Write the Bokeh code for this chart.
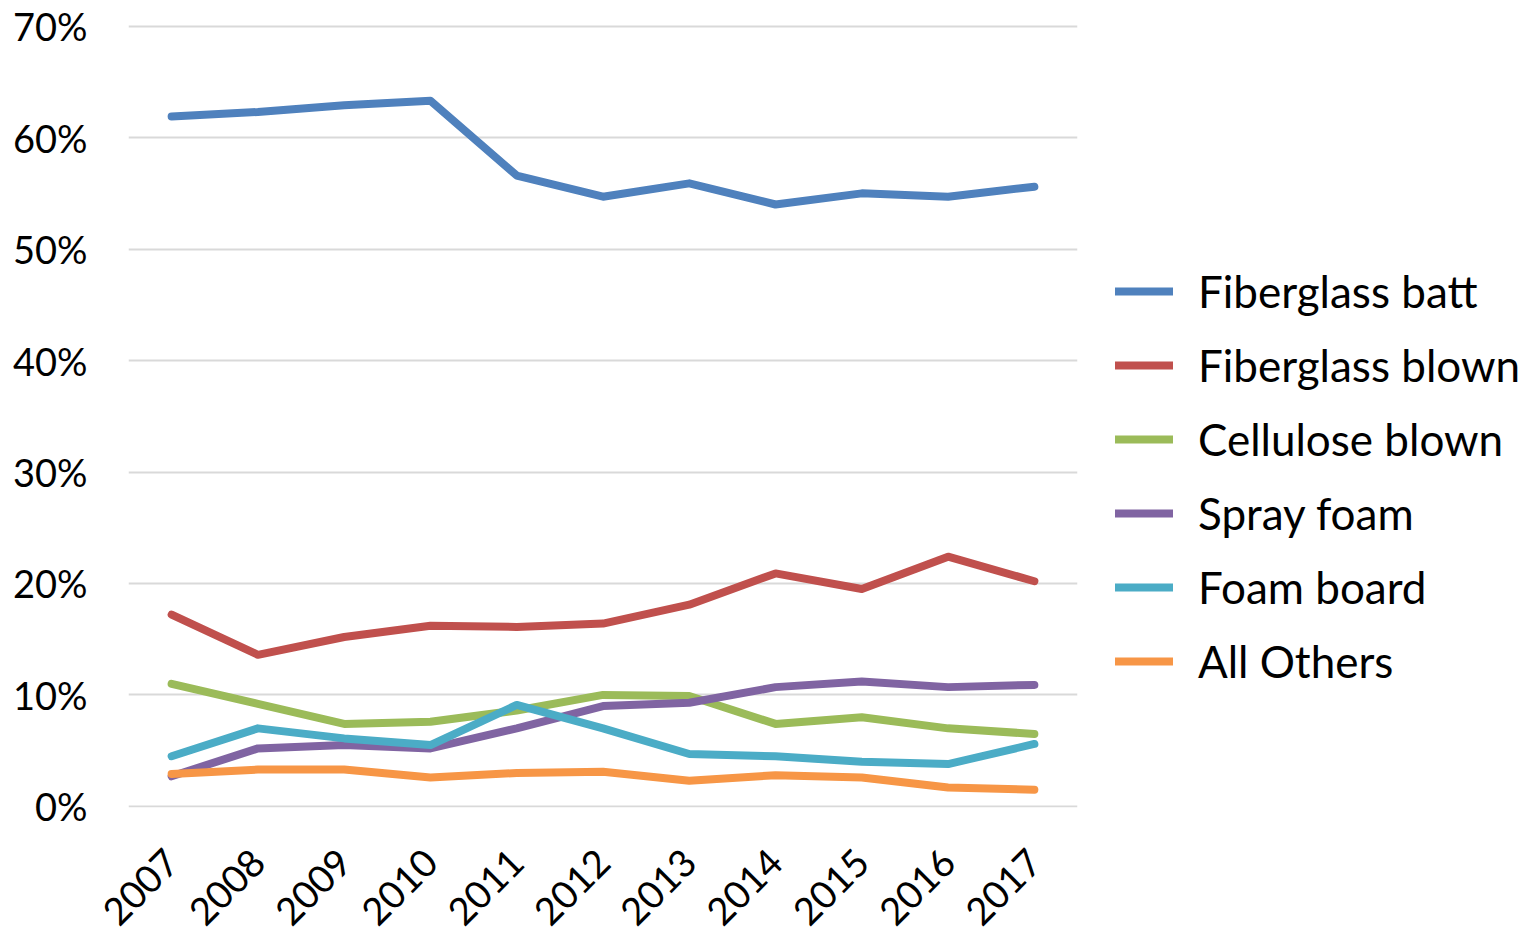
import math
from bokeh.plotting import figure
from bokeh.models import (ColumnDataSource, FactorRange, Range1d, Legend, LegendItem,
                          PrintfTickFormatter, FixedTicker)
from bokeh.embed import file_html
from bokeh.resources import INLINE

years = ["2007", "2008", "2009", "2010", "2011", "2012", "2013", "2014", "2015", "2016", "2017"]

fiberglass_batt = [61.9, 62.3, 62.9, 63.3, 56.6, 54.7, 55.9, 54.0, 55.0, 54.7, 55.6]
fiberglass_blown = [17.2, 13.6, 15.2, 16.2, 16.1, 16.4, 18.1, 20.9, 19.5, 22.4, 20.2]
cellulose_blown = [11.0, 9.2, 7.4, 7.6, 8.6, 10.0, 9.9, 7.4, 8.0, 7.0, 6.5]
spray_foam = [2.7, 5.2, 5.5, 5.2, 7.0, 9.0, 9.3, 10.7, 11.2, 10.7, 10.9]
foam_board = [4.5, 7.0, 6.1, 5.5, 9.1, 7.0, 4.7, 4.5, 4.0, 3.8, 5.6]
all_others = [2.9, 3.3, 3.3, 2.6, 3.0, 3.1, 2.3, 2.8, 2.6, 1.7, 1.5]

series_names = ["Fiberglass batt", "Fiberglass blown", "Cellulose blown",
                "Spray foam", "Foam board", "All Others"]
series_values = [fiberglass_batt, fiberglass_blown, cellulose_blown,
                 spray_foam, foam_board, all_others]
colors = ["#4F81BD", "#C0504D", "#9BBB59", "#8064A2", "#4BACC6", "#F79646"]

y_ticks = [0, 10, 20, 30, 40, 50, 60, 70]

FONT = "Lato"

p = figure(x_range=FactorRange(*years, range_padding=0), y_range=Range1d(-0.1, 70.15),
           frame_width=949, height=940, output_backend="svg", toolbar_location=None,
           min_border_left=128, min_border_right=40, min_border_top=24, min_border_bottom=130)
p.outline_line_color = None
p.background_fill_color = "white"

renderers = []
for name, vals, col in zip(series_names, series_values, colors):
    src = ColumnDataSource(dict(x=years, y=vals))
    r = p.line("x", "y", source=src, line_color=col, line_width=8,
               line_join="round", line_cap="round")
    renderers.append((name, r))

# axes
p.yaxis.ticker = FixedTicker(ticks=y_ticks)
p.yaxis.formatter = PrintfTickFormatter(format="%d%%")
for ax in (p.xaxis[0], p.yaxis[0]):
    ax.axis_line_color = None
    ax.major_tick_line_color = None
    ax.minor_tick_line_color = None
    ax.major_tick_out = 0
    ax.major_tick_in = 0
    ax.major_label_text_font = FONT
    ax.major_label_text_font_size = "38px"
    ax.major_label_text_color = "#000000"
p.yaxis.major_label_standoff = 41
p.xaxis.major_label_orientation = math.pi / 4
p.xaxis.major_label_standoff = 48

p.xgrid.grid_line_color = None
p.ygrid.grid_line_color = "#D9D9D9"
p.ygrid.grid_line_width = 2
p.ygrid.ticker = FixedTicker(ticks=y_ticks)

legend = Legend(items=[LegendItem(label=n, renderers=[r]) for n, r in renderers],
                location=(38, 118), orientation="vertical",
                padding=0, margin=0, spacing=18,
                glyph_width=58, glyph_height=56, label_height=56,
                label_standoff=25,
                label_text_font=FONT, label_text_font_size="44px",
                label_text_color="#000000",
                border_line_color=None, background_fill_alpha=0)
p.add_layout(legend, "right")

open("out.html", "w").write(file_html(p, INLINE))
